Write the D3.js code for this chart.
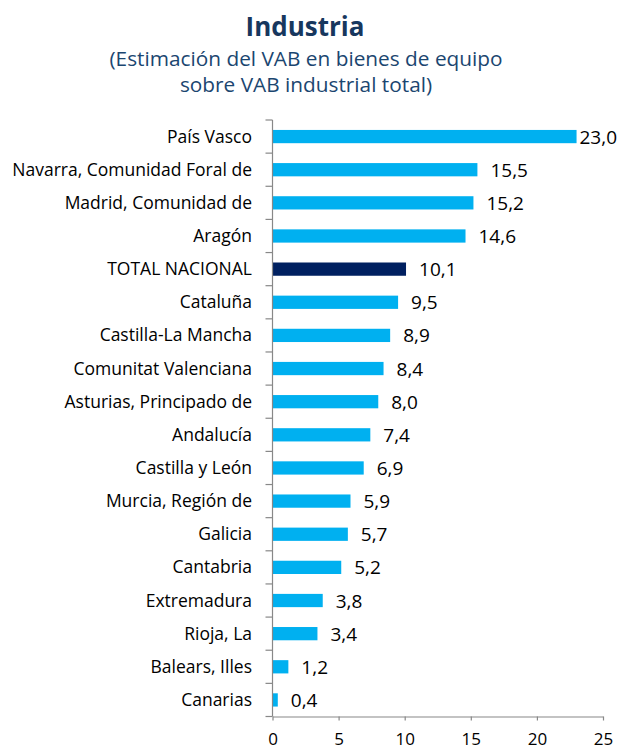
<!DOCTYPE html>
<html>
<head>
<meta charset="utf-8">
<script src="https://cdn.jsdelivr.net/npm/d3@7"></script>
<style>
  body { margin: 0; background: #fff; }
  svg { display: block; font-family: "Open Sans", sans-serif; }
</style>
</head>
<body>
<svg id="chart"></svg>
<script>
// Data
const regions = [
  "País Vasco", "Navarra, Comunidad Foral de", "Madrid, Comunidad de", "Aragón",
  "TOTAL NACIONAL", "Cataluña", "Castilla-La Mancha", "Comunitat Valenciana",
  "Asturias, Principado de", "Andalucía", "Castilla y León", "Murcia, Región de",
  "Galicia", "Cantabria", "Extremadura", "Rioja, La", "Balears, Illes", "Canarias"
]
const values = [23.0, 15.5, 15.2, 14.6, 10.1, 9.5, 8.9, 8.4, 8.0, 7.4, 6.9, 5.9, 5.7, 5.2, 3.8, 3.4, 1.2, 0.4]
const xTicks = [0, 5, 10, 15, 20, 25]
const title = "Industria"
const subtitle = ["(Estimación del VAB en bienes de equipo", "sobre VAB industrial total)"]

const width = 621
const height = 749
const fmt = v => d3.format(".1f")(v).replace(".", ",")

const svg = d3.select("#chart")
  .attr("width", width)
  .attr("height", height)

// Title
svg.append("text")
  .attr("x", 305).attr("y", 36)
  .attr("text-anchor", "middle")
  .attr("font-size", 26).attr("font-weight", "bold")
  .attr("fill", "#17375E")
  .text(title)

svg.selectAll(".sub")
  .data(subtitle)
  .join("text")
  .attr("class", "sub")
  .attr("x", 306).attr("y", (d, i) => 66 + i * 26)
  .attr("text-anchor", "middle")
  .attr("font-size", 20.8)
  .attr("fill", "#1B4670")
  .text(d => d)

// Scales
const x = d3.scaleLinear()
  .domain([0, 25])
  .range([272.5, 603])

const y = d3.scaleBand()
  .domain(regions)
  .range([120, 716.5])
  .paddingInner(0.6)
  .paddingOuter(0.3)

// Bars
svg.append("g")
  .selectAll("rect")
  .data(values)
  .join("rect")
  .attr("x", x(0))
  .attr("y", (d, i) => y(regions[i]))
  .attr("width", d => x(d) - x(0))
  .attr("height", y.bandwidth())
  .attr("fill", (d, i) => regions[i] === "TOTAL NACIONAL" ? "#002060" : "#00B0F0")

// Value labels, pushed left when they would run past the edge
svg.append("g")
  .selectAll("text")
  .data(values)
  .join("text")
  .attr("y", (d, i) => y(regions[i]) + y.bandwidth() / 2 + 7)
  .attr("font-size", 19)
  .attr("fill", "#000")
  .text(fmt)
  .attr("x", function(d) {
    const w = this.getComputedTextLength()
    return Math.min(x(d) + 13, width - 4 - w)
  })

// Y axis: line with ticks between categories
const yAxis = svg.append("g")
const bounds = d3.range(regions.length + 1).map(i => 120 + i * (716.5 - 120) / regions.length)
yAxis.append("line")
  .attr("x1", x(0)).attr("x2", x(0))
  .attr("y1", bounds[0]).attr("y2", bounds[bounds.length - 1])
  .attr("stroke", "#888").attr("stroke-width", 1.2)
yAxis.selectAll(".tk")
  .data(bounds)
  .join("line")
  .attr("class", "tk")
  .attr("x1", x(0) - 7).attr("x2", x(0))
  .attr("y1", d => d).attr("y2", d => d)
  .attr("stroke", "#888").attr("stroke-width", 1.2)
yAxis.selectAll(".lbl")
  .data(regions)
  .join("text")
  .attr("class", "lbl")
  .attr("x", 252)
  .attr("y", d => y(d) + y.bandwidth() / 2 + 6)
  .attr("text-anchor", "end")
  .attr("font-size", 17.5)
  .attr("fill", "#000")
  .text(d => d)

// X axis
svg.append("g")
  .attr("transform", "translate(0, 716.5)")
  .call(d3.axisBottom(x).tickValues(xTicks).tickSize(4).tickSizeOuter(0).tickFormat(d3.format("d")))
  .call(g => g.select(".domain").attr("stroke", "#888").attr("stroke-width", 1.2))
  .call(g => g.selectAll(".tick line").attr("stroke", "#888").attr("stroke-width", 1.2))
  .call(g => g.selectAll(".tick text")
    .attr("font-family", "Open Sans")
    .attr("font-size", 17)
    .attr("fill", "#000")
    .attr("dy", null)
    .attr("y", 28))
</script>
</body>
</html>
